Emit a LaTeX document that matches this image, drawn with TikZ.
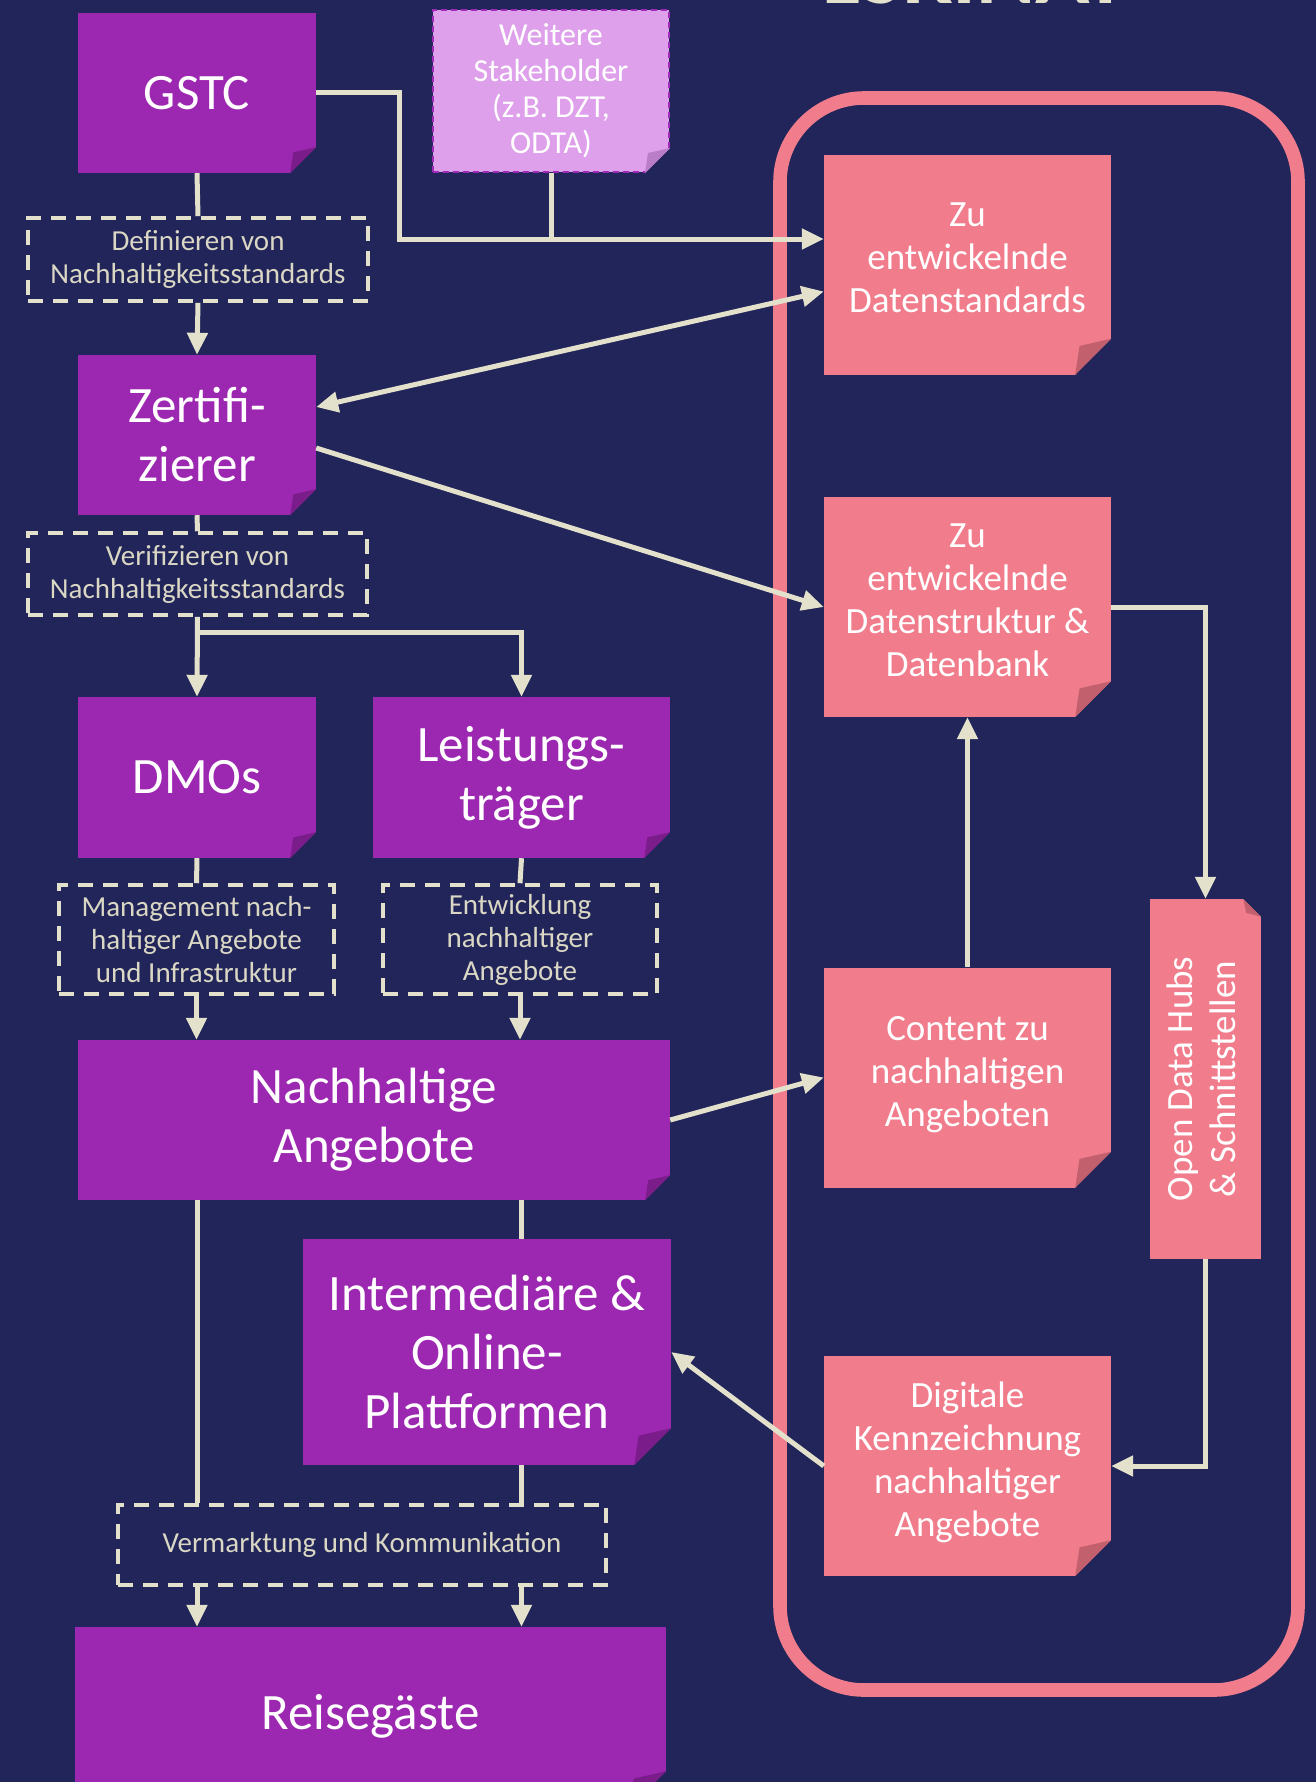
\documentclass[tikz,border=0pt]{standalone}
\usepackage{fontspec}
\setmainfont{Carlito}
\usepackage{graphicx}
\usetikzlibrary{arrows.meta}

\definecolor{bgnavy}{RGB}{33,37,89}
\definecolor{boxpurple}{RGB}{156,39,176}
\definecolor{foldpurple}{RGB}{122,29,138}
\definecolor{boxpink}{RGB}{241,125,140}
\definecolor{foldpink}{RGB}{194,96,110}
\definecolor{boxlilac}{RGB}{222,160,234}
\definecolor{foldlilac}{RGB}{186,126,200}
\definecolor{edgelilac}{RGB}{160,42,184}
\definecolor{linecream}{RGB}{227,224,204}
\definecolor{textcream}{RGB}{218,215,197}

\newcommand{\fbig}{\fontsize{51}{59}\selectfont}
\newcommand{\fmid}{\fontsize{37}{43}\selectfont}
\newcommand{\fweit}{\fontsize{32}{36}\selectfont}
\newcommand{\fsmall}{\fontsize{29}{33}\selectfont}

\tikzset{
  actor/.style={fill=boxpurple, text=white, font=\fbig, align=center, inner sep=0pt},
  datbox/.style={fill=boxpink, text=white, font=\fmid, align=center, inner sep=0pt,
    minimum width=287pt, minimum height=220pt},
  task/.style={draw=linecream, line width=3.6pt, dash pattern=on 15pt off 10pt,
    text=textcream, font=\fsmall, align=center, inner sep=0pt},
  link/.style={draw=linecream, line width=5pt},
  flow/.style={link, -{Triangle[width=20pt,length=22pt]}},
}

\begin{document}
\begin{tikzpicture}[x=1pt, y=-1pt]
\fill[bgnavy] (0,0) rectangle (1316,1782);
\useasboundingbox (0,0) rectangle (1316,1782);

% cut-off title
\begin{scope}
  \clip (0,0) rectangle (1316,1782);
  \node[anchor=base, text=linecream, font={\fontsize{90}{90}\selectfont\bfseries}] (title) at (975,4) {LSKINAT};
\end{scope}

% frame round the data part
\draw[boxpink, line width=13.6pt, rounded corners=84pt] (780,98) rectangle (1298,1690);

% actors
\node[actor, minimum width=238pt, minimum height=160pt] (gstc) at (197,93) {GSTC};
\node[fill=boxlilac, draw=edgelilac, line width=2pt, dash pattern=on 6pt off 4pt,
  text=white, font=\fweit, align=center, inner sep=0pt,
  minimum width=236pt, minimum height=162pt] (weit) at (551,91) {Weitere\\Stakeholder\\(z.B. DZT,\\ODTA)};
\node[actor, minimum width=238pt, minimum height=160pt] (zert) at (197,435) {Zertifi-\\zierer};
\node[actor, minimum width=238pt, minimum height=161pt] (dmo) at (197,777.5) {DMOs};
\node[actor, minimum width=297pt, minimum height=161pt] (leist) at (521.5,777.5) {Leistungs-\\träger};
\node[actor, minimum width=592pt, minimum height=160pt] (nach) at (374,1120) {Nachhaltige\\Angebote};
\node[actor, minimum width=368pt, minimum height=226pt] (inter) at (487,1352) {Intermediäre \&\\Online-\\Plattformen};
\node[actor, minimum width=591pt, minimum height=181pt] (reise) at (370.5,1717.5) {\raisebox{11pt}{Reisegäste}};

% tasks
\node[task, minimum width=340pt, minimum height=83pt] (def) at (198,259.5) {Definieren von\\Nachhaltigkeitsstandards};
\node[task, minimum width=339pt, minimum height=82pt] (ver) at (197.5,574) {Verifizieren von\\Nachhaltigkeitsstandards};
\node[task, minimum width=275pt, minimum height=109pt] (mgmt) at (196.5,939.5) {Management nach-\\haltiger Angebote\\und Infrastruktur};
\node[task, minimum width=274pt, minimum height=109pt] (entw) at (520,939.5) {Entwicklung\\nachhaltiger\\Angebote};
\node[task, minimum width=488pt, minimum height=80pt] (verm) at (362,1545) {Vermarktung und Kommunikation};

% data boxes
\node[datbox] (p1) at (967.5,264.5) {Zu\\entwickelnde\\Datenstandards\\[-30pt]};
\node[datbox] (p2) at (967.5,607) {Zu\\entwickelnde\\Datenstruktur \&\\Datenbank\\[-30pt]};
\node[datbox] (p3) at (967.5,1077.5) {Content zu\\nachhaltigen\\Angeboten\\[-30pt]};
\node[datbox] (p4) at (967.5,1466) {Digitale\\Kennzeichnung\\nachhaltiger\\Angebote\\[-30pt]};
\node[fill=boxpink, text=white, font=\fmid, inner sep=0pt,
  minimum width=111pt, minimum height=360pt] (odh) at (1205.5,1079)
  {\rotatebox{90}{\begin{tabular}{@{}c@{}}Open Data Hubs\\ \& Schnittstellen\end{tabular}}};

% folded corners
\foreach \n/\f/\c in {gstc/26/foldpurple, weit/25/foldlilac, zert/26/foldpurple,
  dmo/26/foldpurple, leist/26/foldpurple, nach/25/foldpurple, inter/37/foldpurple,
  reise/37/foldpurple, p1/36/foldpink, p2/36/foldpink, p3/36/foldpink, p4/36/foldpink}{
  \fill[bgnavy] ([yshift=\f*1pt]\n.south east) -- ([shift={(1pt,-1pt)}]\n.south east) -- ([xshift=-\f*1pt]\n.south east) -- cycle;
  \fill[\c] ([yshift=\f*1pt]\n.south east) -- ([xshift=-\f*1pt]\n.south east)
    -- ([xshift=-0.88*\f*1pt, yshift=0.8*\f*1pt]\n.south east) -- cycle;
}
\fill[bgnavy] ([xshift=-18pt]odh.north east) -- ([shift={(1pt,1pt)}]odh.north east) -- ([yshift=-18pt]odh.north east) -- cycle;
\fill[foldpink] ([xshift=-18pt]odh.north east) -- ([yshift=-18pt]odh.north east)
  -- ([xshift=-15pt, yshift=-14pt]odh.north east) -- cycle;

% connectors
\coordinate (p1in) at ([yshift=25.5pt]p1.west);
\draw[flow] (gstc.east) -- ++(83,0) |- (p1in);
\draw[link] (weit.south) -- (weit.south |- p1in);
\draw[link] (gstc.south) -- (def.north);
\draw[flow] (def.south) -- (zert.north);
\draw[link, {Triangle[width=20pt,length=22pt]}-{Triangle[width=20pt,length=22pt]}]
  ([yshift=28pt]zert.east) -- ([yshift=-27pt]p1.west);
\draw[flow] ([yshift=-13pt]zert.east) -- (p2.west);
\draw[link] (zert.south) -- (ver.north);
\draw[flow] (ver.south) -- (dmo.north);
\draw[flow] ([yshift=-16pt]ver.south) -| (leist.north);
\draw[link] (dmo.south) -- (mgmt.north);
\draw[link] (leist.south) -- (entw.north);
\draw[flow] (mgmt.south) -- (mgmt.south |- nach.north);
\draw[flow] (entw.south) -- (entw.south |- nach.north);
\draw[flow] (nach.east) -- (p3.west);
\draw[link] (leist.south |- nach.south) -- (leist.south |- inter.north);
\draw[link] (dmo.south |- nach.south) -- (dmo.south |- verm.north);
\draw[link] (leist.south |- inter.south) -- (leist.south |- verm.north);
\draw[flow] (dmo.south |- verm.south) -- (dmo.south |- reise.north);
\draw[flow] (leist.south |- verm.south) -- (leist.south |- reise.north);
\draw[flow] (p3.north) -- (p2.south);
\draw[flow] (p2.east) -| (odh.north);
\draw[flow] (odh.south) |- (p4.east);
\draw[flow] (p4.west) -- (inter.east);
\end{tikzpicture}
\end{document}
